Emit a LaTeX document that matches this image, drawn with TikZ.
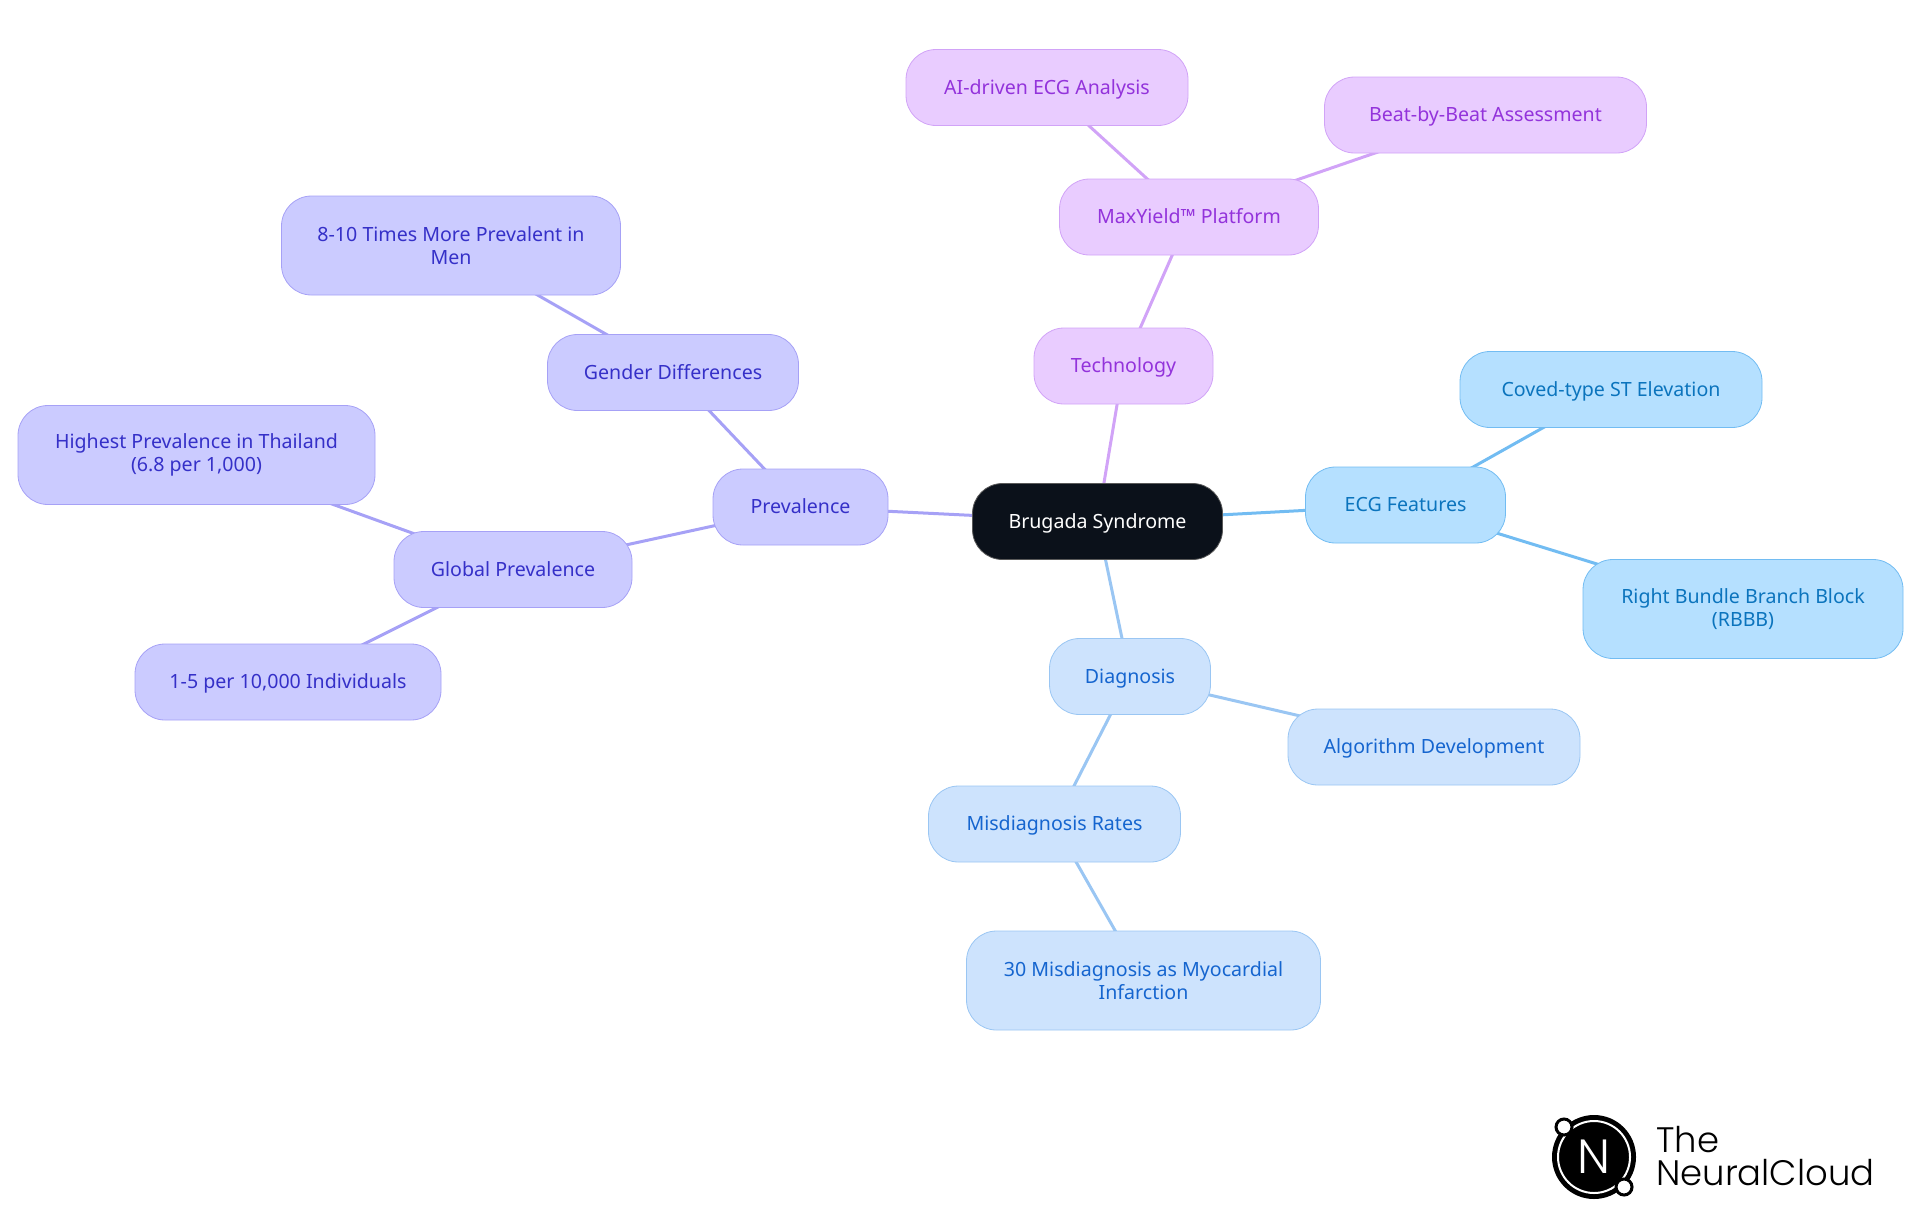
\documentclass[tikz,border=0pt]{standalone}
\usepackage{fontspec}
\setmainfont{Noto Sans}
\newfontfamily\logofont{Poppins Light}
\usetikzlibrary{backgrounds}
\definecolor{rootfill}{HTML}{0B111A}
\definecolor{prevfill}{HTML}{CBCBFF}
\definecolor{prevline}{HTML}{A6A1F6}
\definecolor{prevtext}{HTML}{3530C8}
\definecolor{techfill}{HTML}{E9CCFF}
\definecolor{techline}{HTML}{D1A3F7}
\definecolor{techtext}{HTML}{9333DB}
\definecolor{ecgfill}{HTML}{B5E0FF}
\definecolor{ecgline}{HTML}{72BCF2}
\definecolor{ecgtext}{HTML}{0B74BD}
\definecolor{diagfill}{HTML}{CDE3FD}
\definecolor{diagline}{HTML}{9AC6F3}
\definecolor{diagtext}{HTML}{1565CF}
\tikzset{
  mindnode/.style={draw, rounded corners=15pt, inner sep=0pt, minimum height=38pt,
    text height=7.5pt, text depth=1pt,
    align=center, font=\fontsize{9.8}{11.2}\selectfont},
  tallnode/.style={mindnode, minimum height=49.5pt, text height=, text depth=},
  prevbox/.style={fill=prevfill, draw=prevline, text=prevtext},
  techbox/.style={fill=techfill, draw=techline, text=techtext},
  ecgbox/.style={fill=ecgfill, draw=ecgline, text=ecgtext},
  diagbox/.style={fill=diagfill, draw=diagline, text=diagtext},
  branch/.style={line width=1.5pt}
}
\begin{document}
\begin{tikzpicture}[x=0.5pt, y=-0.5pt]
  \useasboundingbox (0,0) rectangle (1920,1215);

  \node[mindnode, fill=rootfill, draw=gray!70!black, text=white, minimum width=125pt] (brugada) at (1097.5,521.5) {Brugada Syndrome};

  \node[mindnode, prevbox, minimum width=87.5pt] (prevalence) at (800.5,507) {Prevalence};
  \node[mindnode, prevbox, minimum width=125.5pt] (gender) at (673,372.5) {Gender Differences};
  \node[tallnode, prevbox, minimum width=169.5pt] (men) at (451,245.5) {8-10 Times More Prevalent in\\Men};
  \node[mindnode, prevbox, minimum width=119pt] (global) at (513,569.5) {Global Prevalence};
  \node[tallnode, prevbox, minimum width=178.5pt] (thailand) at (196.5,455) {Highest Prevalence in Thailand\\(6.8 per 1,000)};
  \node[mindnode, prevbox, minimum width=153pt] (individuals) at (288,682) {1-5 per 10,000 Individuals};

  \node[mindnode, techbox, minimum width=89.5pt] (technology) at (1123.5,366) {Technology};
  \node[mindnode, techbox, minimum width=129.5pt] (maxyield) at (1189,217) {MaxYield™ Platform};
  \node[mindnode, techbox, minimum width=141pt] (aiecg) at (1047,87.5) {AI-driven ECG Analysis};
  \node[mindnode, techbox, minimum width=161pt] (beat) at (1485.5,115) {Beat-by-Beat Assessment};

  \node[mindnode, ecgbox, minimum width=100pt] (ecg) at (1405.5,505) {ECG Features};
  \node[mindnode, ecgbox, minimum width=151pt] (coved) at (1611,389.5) {Coved-type ST Elevation};
  \node[tallnode, ecgbox, minimum width=160pt] (rbbb) at (1743,609) {Right Bundle Branch Block\\(RBBB)};

  \node[mindnode, diagbox, minimum width=80.5pt] (diagnosis) at (1130,676.5) {Diagnosis};
  \node[mindnode, diagbox, minimum width=146pt] (algorithm) at (1434,747) {Algorithm Development};
  \node[mindnode, diagbox, minimum width=126pt] (rates) at (1054.5,824) {Misdiagnosis Rates};
  \node[tallnode, diagbox, minimum width=177pt] (infarction) at (1143.5,980.5) {30 Misdiagnosis as Myocardial\\Infarction};

  \begin{scope}[on background layer]
    \foreach \a/\b in {brugada/prevalence, prevalence/gender, gender/men, prevalence/global, global/thailand, global/individuals}
      \draw[branch, prevline] (\a.center) -- (\b.center);
    \foreach \a/\b in {brugada/technology, technology/maxyield, maxyield/aiecg, maxyield/beat}
      \draw[branch, techline] (\a.center) -- (\b.center);
    \foreach \a/\b in {brugada/ecg, ecg/coved, ecg/rbbb}
      \draw[branch, ecgline] (\a.center) -- (\b.center);
    \foreach \a/\b in {brugada/diagnosis, diagnosis/algorithm, diagnosis/rates, rates/infarction}
      \draw[branch, diagline] (\a.center) -- (\b.center);
  \end{scope}

  % logo
  \fill[black] (1594,1157) circle (21pt);
  \draw[white, line width=1pt] (1594,1157) circle (18pt);
  \draw[black, fill=white, line width=1.5pt] (1564,1127) circle (4pt);
  \draw[black, fill=white, line width=1.5pt] (1624,1187) circle (4pt);
  \node[text=white, inner sep=0pt, font=\logofont\fontsize{24}{24}\selectfont] (logon) at (1594,1157) {N};
  \node[anchor=base west, inner sep=0pt, font=\logofont\fontsize{17.7}{17.7}\selectfont] (logothe) at (1656,1152) {The};
  \node[anchor=base west, inner sep=0pt, font=\logofont\fontsize{17.7}{17.7}\selectfont] (logoname) at (1656,1185) {NeuralCloud};
\end{tikzpicture}
\end{document}
